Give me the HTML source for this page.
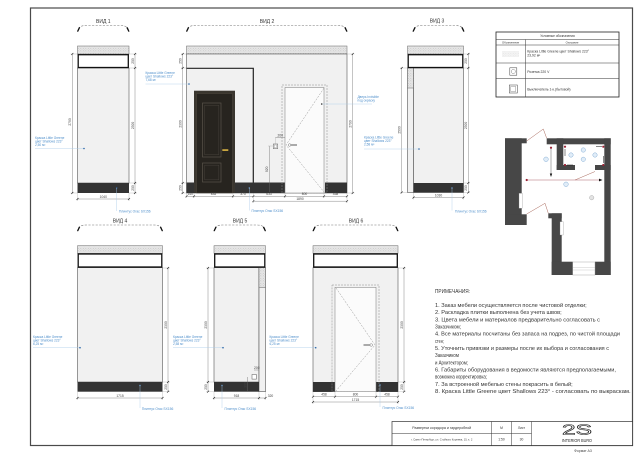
<!DOCTYPE html>
<html><head><meta charset="utf-8">
<style>
html,body{margin:0;padding:0;background:#fff;}
svg{display:block;}
text{font-family:"Liberation Sans","DejaVu Sans",sans-serif;}
.d{stroke:#6a6a6a;stroke-width:0.4;fill:none}
.e{stroke:#9a9a9a;stroke-width:0.3;fill:none}
.tk{stroke:#222;stroke-width:0.6}
.dt{font-size:3.3px;fill:#444;text-anchor:middle}
.bl{font-size:3.2px;fill:#4f8fcb}
.ld{stroke:#a9cbea;stroke-width:0.4;fill:none}
.vl{font-size:5px;fill:#333;text-anchor:middle}
.arc{fill:none;stroke:#777;stroke-width:0.6;stroke-dasharray:2.2,1.4}
.ae{stroke:#111;stroke-width:1.3;fill:none}
.wall{fill:#f1f1f1;stroke:#555;stroke-width:0.6}
.cor{fill:url(#hatch);stroke:#666;stroke-width:0.5}
.box{fill:#fff;stroke:#111;stroke-width:1.3}
.pl{fill:#333}
.nt{font-size:5.5px;fill:#333}
.dot{fill:#2d68a8}
</style></head><body>
<svg width="640" height="453" viewBox="0 0 640 453" xmlns="http://www.w3.org/2000/svg">
<defs>
<pattern id="hatch" width="2.5" height="2.5" patternUnits="userSpaceOnUse">
<rect width="2.5" height="2.5" fill="#e6e6e6"/>
<circle cx="0.8" cy="0.8" r="0.45" fill="#b9b9b9"/>
<circle cx="2" cy="1.9" r="0.35" fill="#c9c9c9"/>
</pattern>
</defs>
<rect width="640" height="453" fill="#fff"/>
<!-- frame -->
<rect x="30.5" y="8" width="602" height="437.5" fill="none" stroke="#4a4a4a" stroke-width="1.2"/>

<!-- ================= ВИД 1 ================= -->
<text class="vl" x="103.3" y="22.8">ВИД 1</text>
<path class="arc" d="M77.5,32 Q78,25.5 86,25.5 L120.5,25.5 Q128.5,25.5 129,32"/>
<path class="ae" d="M77.6,31.5 L79.6,27.3"/><path class="ae" d="M128.9,31.5 L126.9,27.3"/>
<rect class="cor" x="77.5" y="46" width="51.5" height="8"/>
<rect class="wall" x="77.5" y="68" width="51.5" height="115"/>
<rect class="box" x="78.2" y="54.7" width="50.1" height="12.8"/>
<rect class="pl" x="77.5" y="183" width="51.5" height="10"/>
<!-- dims -->
<line class="d" x1="72.3" y1="54" x2="72.3" y2="193"/>
<line class="e" x1="70.5" y1="54" x2="77.5" y2="54"/><line class="e" x1="70.5" y1="193" x2="77.5" y2="193"/>
<line class="tk" x1="71.3" y1="55" x2="73.3" y2="53"/><line class="tk" x1="71.3" y1="194" x2="73.3" y2="192"/>
<text class="dt" transform="rotate(-90 71.2 122)" x="71.2" y="122">2790</text>
<line class="d" x1="135" y1="54" x2="135" y2="193"/>
<line class="e" x1="129" y1="54" x2="137" y2="54"/><line class="e" x1="129" y1="68" x2="137" y2="68"/><line class="e" x1="129" y1="183" x2="137" y2="183"/><line class="e" x1="129" y1="193" x2="137" y2="193"/>
<line class="tk" x1="134" y1="55" x2="136" y2="53"/><line class="tk" x1="134" y1="69" x2="136" y2="67"/><line class="tk" x1="134" y1="184" x2="136" y2="182"/><line class="tk" x1="134" y1="194" x2="136" y2="192"/>
<text class="dt" transform="rotate(-90 134 61)" x="134" y="61">250</text>
<text class="dt" transform="rotate(-90 134 125.5)" x="134" y="125.5">2300</text>
<text class="dt" transform="rotate(-90 134 188)" x="134" y="188">250</text>
<line class="d" x1="77.5" y1="199" x2="129" y2="199"/>
<line class="e" x1="77.5" y1="193" x2="77.5" y2="201"/><line class="e" x1="129" y1="193" x2="129" y2="201"/>
<line class="tk" x1="76.5" y1="200" x2="78.5" y2="198"/><line class="tk" x1="128" y1="200" x2="130" y2="198"/>
<text class="dt" x="103.3" y="197.8">1040</text>
<!-- annotations -->
<text class="bl" x="35" y="139">Краска Little Greene</text>
<text class="bl" x="35" y="142.6">цвет Shallows 223°</text>
<text class="bl" x="35" y="146.2">2,50 м²</text>
<line class="ld" x1="35" y1="148.5" x2="84" y2="148.5"/>
<circle class="dot" cx="84" cy="148.5" r="0.8"/>
<circle class="dot" cx="116.7" cy="188" r="0.7" fill="#6aa0d8"/>
<line class="ld" x1="116.7" y1="188" x2="116.7" y2="211"/>
<text class="bl" x="119" y="212.5" style="font-size:3.3px">Плинтус Orac SX156</text>

<!-- ================= ВИД 2 ================= -->
<text class="vl" x="267" y="22.8">ВИД 2</text>
<path class="arc" d="M186.5,32 Q187,25.5 195,25.5 L338.5,25.5 Q346.5,25.5 347,32"/>
<path class="ae" d="M186.6,31.5 L188.6,27.3"/><path class="ae" d="M346.9,31.5 L344.9,27.3"/>
<rect class="cor" x="186.5" y="46" width="160.5" height="8"/>
<rect class="wall" x="186.5" y="54" width="160.5" height="139"/>
<path d="M186.5,68.3 L253.3,68.3 L253.3,183" fill="none" stroke="#222" stroke-width="1.2"/>
<rect class="pl" x="186.5" y="182.5" width="98.5" height="10.5"/>
<rect class="pl" x="325" y="182.5" width="22" height="10.5"/>
<!-- door -->
<rect x="194" y="90.7" width="41" height="102.3" fill="#3a362f"/>
<rect x="196.6" y="93.6" width="35.8" height="99.4" fill="#27241f" stroke="#4d473e" stroke-width="0.5"/>
<rect x="202.5" y="103" width="18.5" height="54" fill="none" stroke="#5a544a" stroke-width="0.7"/>
<rect x="204.7" y="105.3" width="14.1" height="49.4" fill="none" stroke="#46413a" stroke-width="0.5"/>
<rect x="202.5" y="163" width="18.5" height="19" fill="none" stroke="#5a544a" stroke-width="0.7"/>
<rect x="204.7" y="165.2" width="14.1" height="14.6" fill="none" stroke="#46413a" stroke-width="0.5"/>
<rect x="222.3" y="149.2" width="6" height="1.8" fill="#c9a640"/>
<!-- invisible door -->
<rect x="282" y="85" width="45" height="108" fill="none" stroke="#8a8a8a" stroke-width="0.5" stroke-dasharray="2,1"/>
<rect x="285" y="87.5" width="39" height="105.5" fill="#fbfbfb" stroke="#777" stroke-width="0.5"/>
<polyline points="324,88 286,145 324,192" fill="none" stroke="#8a8a8a" stroke-width="0.45" stroke-dasharray="2,1.2"/>
<circle cx="289.6" cy="145" r="1.3" fill="none" stroke="#555" stroke-width="0.4"/>
<rect x="290.5" y="144.3" width="6.5" height="1.4" fill="#888"/>
<!-- socket -->
<rect x="273.3" y="144" width="4.4" height="4.6" fill="#fff" stroke="#555" stroke-width="0.5"/>
<rect x="274.3" y="145" width="2.4" height="2.6" fill="none" stroke="#777" stroke-width="0.3"/>
<line class="d" x1="269.3" y1="146" x2="269.3" y2="192"/>
<line class="e" x1="268" y1="146" x2="273.3" y2="146"/>
<text class="dt" transform="rotate(-90 268.2 169.3)" x="268.2" y="169.3">920</text>
<line class="d" x1="275.5" y1="137.5" x2="285" y2="137.5"/>
<line class="e" x1="275.5" y1="137" x2="275.5" y2="144"/>
<text class="dt" x="280.3" y="136.6">200</text>
<!-- dims -->
<line class="d" x1="182.7" y1="54" x2="182.7" y2="193"/>
<line class="e" x1="181" y1="54" x2="186.5" y2="54"/><line class="e" x1="181" y1="68" x2="186.5" y2="68"/><line class="e" x1="181" y1="183" x2="186.5" y2="183"/><line class="e" x1="181" y1="193" x2="186.5" y2="193"/>
<line class="tk" x1="181.7" y1="55" x2="183.7" y2="53"/><line class="tk" x1="181.7" y1="69" x2="183.7" y2="67"/><line class="tk" x1="181.7" y1="184" x2="183.7" y2="182"/><line class="tk" x1="181.7" y1="194" x2="183.7" y2="192"/>
<text class="dt" transform="rotate(-90 181.5 61)" x="181.5" y="61">250</text>
<text class="dt" transform="rotate(-90 181.5 124)" x="181.5" y="124">2300</text>
<text class="dt" transform="rotate(-90 181.5 188)" x="181.5" y="188">250</text>
<line class="d" x1="352.7" y1="54" x2="352.7" y2="193"/>
<line class="e" x1="347" y1="54" x2="354.5" y2="54"/><line class="e" x1="347" y1="193" x2="354.5" y2="193"/>
<line class="tk" x1="351.7" y1="55" x2="353.7" y2="53"/><line class="tk" x1="351.7" y1="194" x2="353.7" y2="192"/>
<text class="dt" transform="rotate(-90 351.5 124)" x="351.5" y="124">2790</text>
<line class="d" x1="186.5" y1="196.3" x2="347" y2="196.3"/>
<line class="d" x1="253.3" y1="201.2" x2="347" y2="201.2"/>
<g class="e">
<line x1="186.5" y1="193" x2="186.5" y2="198"/><line x1="194" y1="193" x2="194" y2="198"/><line x1="233" y1="193" x2="233" y2="198"/>
<line x1="253.3" y1="193" x2="253.3" y2="203"/><line x1="285" y1="193" x2="285" y2="198"/><line x1="324" y1="193" x2="324" y2="198"/><line x1="347" y1="193" x2="347" y2="203"/>
</g>
<g class="tk">
<line x1="185.5" y1="197.3" x2="187.5" y2="195.3"/><line x1="193" y1="197.3" x2="195" y2="195.3"/><line x1="232" y1="197.3" x2="234" y2="195.3"/>
<line x1="252.3" y1="197.3" x2="254.3" y2="195.3"/><line x1="284" y1="197.3" x2="286" y2="195.3"/><line x1="323" y1="197.3" x2="325" y2="195.3"/><line x1="346" y1="197.3" x2="348" y2="195.3"/>
<line x1="252.3" y1="202.2" x2="254.3" y2="200.2"/><line x1="346" y1="202.2" x2="348" y2="200.2"/>
</g>
<text class="dt" x="190.2" y="195.1">140</text>
<text class="dt" x="213.5" y="195.1">835</text>
<text class="dt" x="243" y="195.1">375</text>
<text class="dt" x="269" y="195.1">633</text>
<text class="dt" x="304.5" y="195.1">800</text>
<text class="dt" x="335.5" y="195.1">458</text>
<text class="dt" x="300" y="200">1890</text>
<!-- annotations -->
<text class="bl" x="145.5" y="74">Краска Little Greene</text>
<text class="bl" x="145.5" y="77.6">цвет Shallows 223°</text>
<text class="bl" x="145.5" y="81.2">7,68 м²</text>
<line class="ld" x1="145.5" y1="84" x2="189" y2="84"/>
<circle class="dot" cx="189" cy="84" r="0.8"/>
<text class="bl" x="357.5" y="98">Дверь Invisible</text>
<text class="bl" x="357.5" y="101.6">под окраску</text>
<line class="ld" x1="321.7" y1="104" x2="372" y2="104"/>
<circle cx="321.7" cy="104" r="0.8" fill="#333"/>
<circle cx="249.3" cy="188" r="0.7" fill="#6aa0d8"/>
<line class="ld" x1="249.3" y1="188" x2="249.3" y2="210.5"/>
<text class="bl" x="251.5" y="212" style="font-size:3.3px">Плинтус Orac SX156</text>

<!-- ================= ВИД 3 ================= -->
<text class="vl" x="437" y="22.3">ВИД 3</text>
<path class="arc" d="M413,32 Q413.5,25.5 421.5,25.5 L455.5,25.5 Q463.5,25.5 464,32"/>
<path class="ae" d="M413.1,31.5 L415.1,27.3"/><path class="ae" d="M463.9,31.5 L461.9,27.3"/>
<rect class="cor" x="407.5" y="46" width="56" height="8"/>
<rect class="wall" x="413.5" y="68" width="50" height="124.5"/>
<rect class="wall" x="407.5" y="68" width="6" height="124.5"/>
<rect class="cor" x="407.5" y="68" width="6" height="20"/>
<rect class="box" x="408.2" y="54.7" width="54.6" height="12.8"/>
<rect class="pl" x="413.5" y="183" width="50" height="9.5"/>
<line class="d" x1="401.7" y1="68" x2="401.7" y2="192.5"/>
<line class="e" x1="400" y1="68" x2="407.5" y2="68"/><line class="e" x1="400" y1="192.5" x2="407.5" y2="192.5"/>
<line class="tk" x1="400.7" y1="69" x2="402.7" y2="67"/><line class="tk" x1="400.7" y1="193.5" x2="402.7" y2="191.5"/>
<text class="dt" transform="rotate(-90 400.5 130)" x="400.5" y="130">2500</text>
<line class="d" x1="468.3" y1="54" x2="468.3" y2="192.5"/>
<line class="e" x1="463.5" y1="54" x2="470" y2="54"/><line class="e" x1="463.5" y1="68" x2="470" y2="68"/><line class="e" x1="463.5" y1="183" x2="470" y2="183"/><line class="e" x1="463.5" y1="192.5" x2="470" y2="192.5"/>
<line class="tk" x1="467.3" y1="55" x2="469.3" y2="53"/><line class="tk" x1="467.3" y1="69" x2="469.3" y2="67"/><line class="tk" x1="467.3" y1="184" x2="469.3" y2="182"/><line class="tk" x1="467.3" y1="193.5" x2="469.3" y2="191.5"/>
<text class="dt" transform="rotate(-90 467.2 61)" x="467.2" y="61">250</text>
<text class="dt" transform="rotate(-90 467.2 125.5)" x="467.2" y="125.5">2300</text>
<text class="dt" transform="rotate(-90 467.2 188)" x="467.2" y="188">250</text>
<line class="d" x1="413.5" y1="197.5" x2="463.5" y2="197.5"/>
<line class="e" x1="413.5" y1="192.5" x2="413.5" y2="199.5"/><line class="e" x1="463.5" y1="192.5" x2="463.5" y2="199.5"/>
<line class="tk" x1="412.5" y1="198.5" x2="414.5" y2="196.5"/><line class="tk" x1="462.5" y1="198.5" x2="464.5" y2="196.5"/>
<text class="dt" x="438.5" y="196.3">1030</text>
<text class="bl" x="364" y="138.5">Краска Little Greene</text>
<text class="bl" x="364" y="142.1">цвет Shallows 223°</text>
<text class="bl" x="364" y="145.7">2,58 м²</text>
<line class="ld" x1="364" y1="149" x2="419" y2="149"/>
<circle class="dot" cx="419" cy="149" r="0.8"/>
<circle cx="452" cy="188" r="0.7" fill="#6aa0d8"/>
<line class="ld" x1="452" y1="188" x2="452" y2="210.5"/>
<text class="bl" x="455" y="212.3" style="font-size:3.3px">Плинтус Orac SX156</text>

<!-- ================= legend ================= -->
<rect x="496" y="32" width="123" height="65" fill="#fff" stroke="#222" stroke-width="0.8"/>
<g stroke="#333" stroke-width="0.5">
<line x1="496" y1="39.5" x2="619" y2="39.5"/>
<line x1="496" y1="45" x2="619" y2="45"/>
<line x1="496" y1="63" x2="619" y2="63"/>
<line x1="496" y1="78.5" x2="619" y2="78.5"/>
<line x1="525.3" y1="39.5" x2="525.3" y2="97"/>
</g>
<text x="557.5" y="37" style="font-size:3.2px;fill:#333;text-anchor:middle">Условные обозначения</text>
<text x="510.6" y="43.4" style="font-size:2.8px;fill:#333;text-anchor:middle">Обозначение</text>
<text x="572" y="43.4" style="font-size:2.8px;fill:#333;text-anchor:middle">Описание</text>
<rect x="502" y="51" width="17" height="6" fill="url(#hatch)" opacity="0.45"/>
<text x="527.3" y="52.6" style="font-size:3.4px;fill:#333">Краска Little Greene цвет Shallows 223°</text>
<text x="527.3" y="56.6" style="font-size:3.4px;fill:#333">23,92 м²</text>
<rect x="509.8" y="67.8" width="7" height="7.4" fill="#fff" stroke="#444" stroke-width="0.5"/>
<circle cx="513.3" cy="71.5" r="2.1" fill="none" stroke="#666" stroke-width="0.4"/>
<text x="527.3" y="72.8" style="font-size:3.4px;fill:#333">Розетка 220 V</text>
<rect x="509.3" y="85" width="8" height="8" fill="#fff" stroke="#444" stroke-width="0.5"/>
<rect x="510.8" y="86.5" width="5" height="5" fill="none" stroke="#777" stroke-width="0.4"/>
<text x="527.3" y="90.3" style="font-size:3.4px;fill:#333">Выключатель 1-к.(бытовой)</text>

<!-- ================= plan ================= -->
<g fill="#474747">
<rect x="505" y="138.3" width="21.7" height="5"/>
<rect x="505" y="138.3" width="16.7" height="86.7"/>
<rect x="505" y="214.3" width="21.7" height="10.7"/>
<rect x="546.7" y="138.3" width="64" height="6"/>
<rect x="556.7" y="138.3" width="6.6" height="31.7"/>
<rect x="556.7" y="165" width="18.3" height="5"/>
<rect x="595" y="165" width="15.7" height="5"/>
<rect x="604.3" y="138.3" width="6.4" height="136.7"/>
<rect x="548.3" y="213.3" width="13.4" height="5"/>
<rect x="551.7" y="213.3" width="10" height="61.7"/>
<rect x="551.7" y="261.7" width="21" height="13.3"/>
<rect x="595" y="261.7" width="15.7" height="13.3"/>
</g>
<rect x="572.7" y="262" width="22.3" height="13" fill="#fff" stroke="#999" stroke-width="0.4"/>
<line x1="572.7" y1="267.5" x2="595" y2="267.5" stroke="#aaa" stroke-width="0.3"/>
<line x1="572.7" y1="270" x2="595" y2="270" stroke="#aaa" stroke-width="0.3"/>
<rect x="519" y="193.3" width="3.3" height="15" fill="#fff" stroke="#888" stroke-width="0.3"/>
<rect x="560" y="221.7" width="3.3" height="13.3" fill="#fff" stroke="#888" stroke-width="0.3"/>
<g stroke="#a8675a" stroke-width="0.5" fill="none">
<line x1="526.7" y1="141" x2="543.3" y2="129"/>
<line x1="543.3" y1="129" x2="546.7" y2="138.3"/>
<line x1="526.7" y1="214" x2="545" y2="203.3"/>
<line x1="545" y1="203.3" x2="548.3" y2="213.3"/>
<line x1="575" y1="180" x2="595" y2="171.5"/>
</g>
<line x1="526.7" y1="180" x2="599" y2="180" stroke="#9b3a44" stroke-width="0.4"/>
<path d="M599,178.6 L602.5,180 L599,181.4 Z" fill="#111"/>
<line x1="551" y1="147.7" x2="551" y2="174" stroke="#333" stroke-width="0.4"/>
<path d="M549.8,173.5 L551,177 L552.2,173.5 Z" fill="#111"/>
<g fill="#9b2335">
<circle cx="526.7" cy="180" r="1.1"/><circle cx="551" cy="147.7" r="1.1"/>
<circle cx="565" cy="146.7" r="1.1"/><circle cx="603.3" cy="146.7" r="1.1"/>
<circle cx="565" cy="165" r="1.1"/><circle cx="603.3" cy="165" r="1.1"/>
</g>
<g stroke="#111" stroke-width="0.5">
<line x1="596" y1="146.7" x2="602" y2="146.7"/><line x1="603.3" y1="156" x2="603.3" y2="163"/>
<line x1="567" y1="165" x2="573" y2="165"/><line x1="565" y1="149" x2="565" y2="156"/>
</g>
<g fill="#e1edf8" stroke="#6a9ccc" stroke-width="0.4">
<circle cx="546" cy="159.3" r="2.3"/><circle cx="566" cy="184.3" r="2.3"/>
<circle cx="571" cy="155" r="2.2"/><circle cx="583.3" cy="150" r="2.2"/>
<circle cx="583.3" cy="159.3" r="2.2"/><circle cx="595" cy="155" r="2.2"/>
</g>
<circle cx="591.7" cy="197.7" r="2.2" fill="#e3e3e3" stroke="#9a9a9a" stroke-width="0.4"/>

<!-- ================= ВИД 4 ================= -->
<text class="vl" x="120" y="222.5">ВИД 4</text>
<path class="arc" d="M77.5,231.5 Q78,225 86,225 L154,225 Q162,225 162.5,231.5"/>
<path class="ae" d="M77.6,231 L79.6,226.8"/><path class="ae" d="M162.4,231 L160.4,226.8"/>
<rect class="cor" x="77.5" y="245.7" width="85" height="7.6"/>
<rect class="wall" x="77.5" y="267.7" width="85" height="114.3"/>
<rect class="box" x="78.2" y="254" width="83.6" height="13"/>
<rect class="pl" x="77.5" y="382" width="85" height="9.7"/>
<line class="d" x1="168" y1="268" x2="168" y2="391.7"/>
<line class="e" x1="162.5" y1="268" x2="170" y2="268"/><line class="e" x1="162.5" y1="382" x2="170" y2="382"/><line class="e" x1="162.5" y1="391.7" x2="170" y2="391.7"/>
<line class="tk" x1="167" y1="269" x2="169" y2="267"/><line class="tk" x1="167" y1="383" x2="169" y2="381"/><line class="tk" x1="167" y1="392.7" x2="169" y2="390.7"/>
<text class="dt" transform="rotate(-90 166.8 325)" x="166.8" y="325">2300</text>
<text class="dt" transform="rotate(-90 166.8 387)" x="166.8" y="387">250</text>
<line class="d" x1="77.5" y1="398" x2="162.5" y2="398"/>
<line class="e" x1="77.5" y1="391.7" x2="77.5" y2="400"/><line class="e" x1="162.5" y1="391.7" x2="162.5" y2="400"/>
<line class="tk" x1="76.5" y1="399" x2="78.5" y2="397"/><line class="tk" x1="161.5" y1="399" x2="163.5" y2="397"/>
<text class="dt" x="120" y="396.8">1715</text>
<text class="bl" x="33" y="338">Краска Little Greene</text>
<text class="bl" x="33" y="341.6">цвет Shallows 223°</text>
<text class="bl" x="33" y="345.2">6,25 м²</text>
<line class="ld" x1="33" y1="347.7" x2="80" y2="347.7"/>
<circle class="dot" cx="80" cy="347.7" r="0.8"/>
<circle cx="140" cy="385.5" r="0.7" fill="#6aa0d8"/>
<line class="ld" x1="140" y1="385.5" x2="140" y2="408"/>
<text class="bl" x="141.7" y="409.8" style="font-size:3.3px">Плинтус Orac SX156</text>

<!-- ================= ВИД 5 ================= -->
<text class="vl" x="240" y="222.5">ВИД 5</text>
<path class="arc" d="M214,231.5 Q214.5,225 222.5,225 L257,225 Q265,225 265.5,231.5"/>
<path class="ae" d="M214.1,231 L216.1,226.8"/><path class="ae" d="M265.4,231 L263.4,226.8"/>
<rect class="cor" x="214" y="245.7" width="51.5" height="7.6"/>
<rect class="wall" x="214" y="267.7" width="45" height="114.3"/>
<rect class="wall" x="259" y="267.7" width="6.5" height="124"/>
<rect class="cor" x="259" y="267.7" width="6.5" height="20"/>
<rect class="box" x="214.7" y="254" width="50.1" height="13"/>
<rect class="pl" x="214" y="382" width="45" height="9.7"/>
<rect x="252" y="374.5" width="4.4" height="4.6" fill="#fff" stroke="#555" stroke-width="0.5"/>
<line class="d" x1="247.5" y1="377" x2="247.5" y2="391"/>
<text class="dt" transform="rotate(-90 246.5 385)" x="246.5" y="385">300</text>
<line class="d" x1="254" y1="370" x2="259" y2="370"/>
<text class="dt" x="256.8" y="369">200</text>
<line class="d" x1="208" y1="268" x2="208" y2="391.7"/>
<line class="e" x1="206" y1="268" x2="214" y2="268"/><line class="e" x1="206" y1="382" x2="214" y2="382"/><line class="e" x1="206" y1="391.7" x2="214" y2="391.7"/>
<line class="tk" x1="207" y1="269" x2="209" y2="267"/><line class="tk" x1="207" y1="383" x2="209" y2="381"/><line class="tk" x1="207" y1="392.7" x2="209" y2="390.7"/>
<text class="dt" transform="rotate(-90 206.8 325)" x="206.8" y="325">2300</text>
<text class="dt" transform="rotate(-90 206.8 387)" x="206.8" y="387">250</text>
<line class="d" x1="214" y1="398" x2="265.5" y2="398"/>
<line class="e" x1="214" y1="391.7" x2="214" y2="400"/><line class="e" x1="259" y1="391.7" x2="259" y2="400"/><line class="e" x1="265.5" y1="391.7" x2="265.5" y2="400"/>
<line class="tk" x1="213" y1="399" x2="215" y2="397"/><line class="tk" x1="258" y1="399" x2="260" y2="397"/><line class="tk" x1="264.5" y1="399" x2="266.5" y2="397"/>
<text class="dt" x="236.5" y="396.8">918</text>
<text class="dt" x="270.5" y="396.8">320</text>
<text class="bl" x="173" y="338">Краска Little Greene</text>
<text class="bl" x="173" y="341.6">цвет Shallows 223°</text>
<text class="bl" x="173" y="345.2">2,58 м²</text>
<line class="ld" x1="173" y1="347.7" x2="223" y2="347.7"/>
<circle class="dot" cx="223" cy="347.7" r="0.8"/>
<circle cx="222" cy="385.5" r="0.7" fill="#6aa0d8"/>
<line class="ld" x1="222" y1="385.5" x2="222" y2="408"/>
<text class="bl" x="224.5" y="409.8" style="font-size:3.3px">Плинтус Orac SX156</text>

<!-- ================= ВИД 6 ================= -->
<text class="vl" x="356" y="222.5">ВИД 6</text>
<path class="arc" d="M313,231.5 Q313.5,225 321.5,225 L389.5,225 Q397.5,225 398,231.5"/>
<path class="ae" d="M313.1,231 L315.1,226.8"/><path class="ae" d="M397.9,231 L395.9,226.8"/>
<rect class="cor" x="313" y="245.7" width="85" height="7.6"/>
<rect class="wall" x="313" y="267.7" width="85" height="124"/>
<rect class="box" x="313.7" y="254" width="83.6" height="13"/>
<rect class="pl" x="313" y="382" width="22" height="9.7"/>
<rect class="pl" x="376" y="382" width="22" height="9.7"/>
<rect x="332" y="285" width="47" height="106.7" fill="none" stroke="#8a8a8a" stroke-width="0.5" stroke-dasharray="2,1"/>
<rect x="335" y="287.3" width="41" height="104.4" fill="#fbfbfb" stroke="#777" stroke-width="0.5"/>
<polyline points="336,288 375,345 336,391" fill="none" stroke="#8a8a8a" stroke-width="0.45" stroke-dasharray="2,1.2"/>
<circle cx="371.2" cy="345" r="1.3" fill="none" stroke="#555" stroke-width="0.4"/>
<rect x="363.5" y="344.3" width="6.5" height="1.4" fill="#888"/>
<line class="d" x1="404" y1="268" x2="404" y2="391.7"/>
<line class="e" x1="398" y1="268" x2="406" y2="268"/><line class="e" x1="398" y1="382" x2="406" y2="382"/><line class="e" x1="398" y1="391.7" x2="406" y2="391.7"/>
<line class="tk" x1="403" y1="269" x2="405" y2="267"/><line class="tk" x1="403" y1="383" x2="405" y2="381"/><line class="tk" x1="403" y1="392.7" x2="405" y2="390.7"/>
<text class="dt" transform="rotate(-90 402.8 325)" x="402.8" y="325">2300</text>
<text class="dt" transform="rotate(-90 402.8 387)" x="402.8" y="387">250</text>
<line class="d" x1="313" y1="396.7" x2="398" y2="396.7"/>
<line class="d" x1="313" y1="402" x2="398" y2="402"/>
<g class="e">
<line x1="313" y1="391.7" x2="313" y2="404"/><line x1="335" y1="391.7" x2="335" y2="398.5"/><line x1="376" y1="391.7" x2="376" y2="398.5"/><line x1="398" y1="391.7" x2="398" y2="404"/>
</g>
<g class="tk">
<line x1="312" y1="397.7" x2="314" y2="395.7"/><line x1="334" y1="397.7" x2="336" y2="395.7"/><line x1="375" y1="397.7" x2="377" y2="395.7"/><line x1="397" y1="397.7" x2="399" y2="395.7"/>
<line x1="312" y1="403" x2="314" y2="401"/><line x1="397" y1="403" x2="399" y2="401"/>
</g>
<text class="dt" x="324" y="395.5">458</text>
<text class="dt" x="355.5" y="395.5">800</text>
<text class="dt" x="387" y="395.5">458</text>
<text class="dt" x="355.5" y="400.8">1715</text>
<text class="bl" x="269.5" y="338">Краска Little Greene</text>
<text class="bl" x="269.5" y="341.6">цвет Shallows 223°</text>
<text class="bl" x="269.5" y="345.2">6,25 м²</text>
<line class="ld" x1="269.5" y1="347.7" x2="315.7" y2="347.7"/>
<circle class="dot" cx="315.7" cy="347.7" r="0.8"/>
<circle cx="380" cy="385" r="0.7" fill="#6aa0d8"/>
<line class="ld" x1="380" y1="385" x2="380" y2="407"/>
<text class="bl" x="382.5" y="408.8" style="font-size:3.3px">Плинтус Orac SX156</text>

<!-- ================= notes ================= -->
<text class="nt" x="435" y="293" textLength="35" lengthAdjust="spacingAndGlyphs">ПРИМЕЧАНИЯ:</text>
<text class="nt" x="435" y="307" textLength="151.7" lengthAdjust="spacingAndGlyphs">1. Заказ мебели осуществляется после чистовой отделки;</text>
<text class="nt" x="435" y="314.2" textLength="126.7" lengthAdjust="spacingAndGlyphs">2. Раскладка плитки выполнена без учета швов;</text>
<text class="nt" x="435" y="321.3" textLength="165" lengthAdjust="spacingAndGlyphs">3. Цвета мебели и материалов предварительно согласовать с</text>
<text class="nt" x="435" y="328.5" textLength="26" lengthAdjust="spacingAndGlyphs">Заказчиком;</text>
<text class="nt" x="435" y="335.7" textLength="185" lengthAdjust="spacingAndGlyphs">4. Все материалы посчитаны без запаса на подрез, по чистой площади</text>
<text class="nt" x="435" y="342.8" textLength="9" lengthAdjust="spacingAndGlyphs">стен;</text>
<text class="nt" x="435" y="350" textLength="174" lengthAdjust="spacingAndGlyphs">5. Уточнить привязки и размеры после их выбора и согласования с</text>
<text class="nt" x="435" y="357.2" textLength="24" lengthAdjust="spacingAndGlyphs">Заказчиком</text>
<text class="nt" x="435" y="364.3" textLength="33" lengthAdjust="spacingAndGlyphs">и Архитектором;</text>
<text class="nt" x="435" y="371.5" textLength="181" lengthAdjust="spacingAndGlyphs">6. Габариты оборудования в ведомости являются предполагаемыми,</text>
<text class="nt" x="435" y="378.7" textLength="52" lengthAdjust="spacingAndGlyphs">возможна корректировка;</text>
<text class="nt" x="435" y="385.8" textLength="137.7" lengthAdjust="spacingAndGlyphs">7. За встроенной мебелью стены покрасить в белый;</text>
<text class="nt" x="435" y="393" textLength="195.7" lengthAdjust="spacingAndGlyphs">8. Краска Little Greene цвет Shallows 223° - согласовать по выкраскам.</text>

<!-- ================= title block ================= -->
<rect x="392" y="421.5" width="240.5" height="24" fill="#fff" stroke="#333" stroke-width="0.7"/>
<g stroke="#333" stroke-width="0.5">
<line x1="491.5" y1="421.5" x2="491.5" y2="445.5"/>
<line x1="511.5" y1="421.5" x2="511.5" y2="445.5"/>
<line x1="531.5" y1="421.5" x2="531.5" y2="445.5"/>
<line x1="392" y1="433.3" x2="531.5" y2="433.3"/>
</g>
<text x="441.7" y="428.8" style="font-size:3.6px;fill:#333;text-anchor:middle">Развертки коридора и гардеробной</text>
<text x="441.7" y="440.6" style="font-size:2.7px;fill:#444;text-anchor:middle">г. Санкт-Петербург, ул. Стойкого Корнева, 15, к. 2</text>
<text x="501.5" y="428.8" style="font-size:3.3px;fill:#333;text-anchor:middle">М</text>
<text x="501.5" y="440.6" style="font-size:3.3px;fill:#333;text-anchor:middle">1:50</text>
<text x="521.5" y="428.8" style="font-size:3.3px;fill:#333;text-anchor:middle">Лист</text>
<text x="521.5" y="440.6" style="font-size:3.3px;fill:#333;text-anchor:middle">30</text>
<text x="562" y="434.3" textLength="30" lengthAdjust="spacingAndGlyphs" style="font-size:15px;fill:none;stroke:#222;stroke-width:0.6">2S</text>
<text x="562" y="441.8" textLength="30" lengthAdjust="spacingAndGlyphs" style="font-size:4.6px;fill:#222">INTERIOR BURO</text>
<text x="583" y="451.8" style="font-size:3.5px;fill:#444;text-anchor:middle">Формат А3</text>
</svg>
</body></html>
